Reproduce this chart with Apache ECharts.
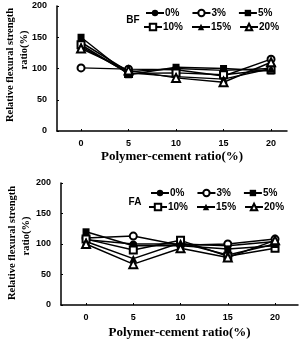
<!DOCTYPE html>
<html>
<head>
<meta charset="utf-8">
<script src="https://cdn.jsdelivr.net/npm/echarts@6/dist/echarts.min.js"></script>
<style>
  html, body { margin: 0; padding: 0; background: #fff; }
  #chart { width: 304px; height: 340px; }
</style>
</head>
<body>
<div id="chart"></div>
<script>
// polymer-cement ratio (%)
const ratios = [0, 5, 10, 15, 20]
const seriesNames = ['0%', '3%', '5%', '10%', '15%', '20%']
const symbols = ['circle', 'emptyCircle', 'rect', 'emptyRect', 'triangle', 'emptyTriangle']

// BF panel
const bf0 = [142, 95, 100, 97, 100]
const bf3 = [101, 99, 98, 88, 115]
const bf5 = [150, 90, 102, 100, 96]
const bf10 = [138, 92, 93, 90, 98]
const bf15 = [135, 93, 87, 83, 100]
const bf20 = [132, 97, 85, 78, 110]

// FA panel
const fa0 = [107, 100, 100, 97, 104]
const fa3 = [110, 113, 98, 100, 108]
const fa5 = [120, 97, 97, 92, 97]
const fa10 = [108, 90, 106, 80, 93]
const fa15 = [104, 76, 102, 82, 100]
const fa20 = [100, 67, 93, 78, 106]

const chart = echarts.init(document.getElementById('chart'), null, { renderer: 'canvas' })

const black = '#000'
const sans = 'Liberation Sans'
const serif = 'Liberation Serif'

function makeSeries(sets, idx) {
    return sets.map((vals, i) => ({
        name: seriesNames[i],
        type: 'line',
        xAxisIndex: idx,
        yAxisIndex: idx,
        symbol: symbols[i],
        symbolSize: i >= 4 ? 8 : 7,
        lineStyle: { color: black, width: 1.5 },
        itemStyle: { color: black, borderWidth: 1.2 },
        data: ratios.map((x, k) => [x, vals[k]]),
        animation: false
    }))
}

function xAxis(idx, min, max, gap) {
    return {
        type: 'value',
        gridIndex: idx,
        min: min,
        max: max,
        splitLine: { show: false },
        axisLine: { onZero: false, lineStyle: { color: black, width: 1.5 } },
        axisTick: { inside: true, length: 2, customValues: ratios, lineStyle: { color: black } },
        axisLabel: { customValues: ratios, margin: 8, color: black, fontFamily: sans, fontWeight: 'bold', fontSize: 9 },
        name: 'Polymer-cement ratio(%)',
        nameLocation: 'middle',
        nameGap: gap,
        nameTextStyle: { color: black, fontFamily: serif, fontWeight: 'bold', fontSize: 13 }
    }
}

function yAxis(idx) {
    return {
        type: 'value',
        gridIndex: idx,
        min: 0,
        max: 200,
        interval: 50,
        splitLine: { show: false },
        axisLine: { show: true, onZero: false, lineStyle: { color: black, width: 1.5 } },
        axisTick: { show: true, inside: true, length: 2, lineStyle: { color: black } },
        axisLabel: { margin: 10, color: black, fontFamily: sans, fontWeight: 'bold', fontSize: 9 }
    }
}

function legends(left, top1, top2) {
    const base = {
        orient: 'horizontal',
        itemWidth: 18,
        itemHeight: 8,
        selectedMode: false,
        padding: 0,
        textStyle: { color: black, fontFamily: sans, fontWeight: 'bold', fontSize: 10, padding: [0, 0, 0, -4] }
    }
    return [
        Object.assign({}, base, { left: left, top: top1, itemGap: 12, data: seriesNames.slice(0, 3) }),
        Object.assign({}, base, { left: left - 2, top: top2, itemGap: 8, data: seriesNames.slice(3) })
    ]
}

function yTitle(x1, y1, x2, y2) {
    const st = { fill: black, font: 'bold 10.5px "Liberation Serif"', align: 'center', verticalAlign: 'middle' }
    return [
        { type: 'text', x: x1, y: y1, rotation: Math.PI / 2, style: Object.assign({ text: 'Relative flexural strength' }, st) },
        { type: 'text', x: x2, y: y2, rotation: Math.PI / 2, style: Object.assign({ text: 'ratio(%)' }, st) }
    ]
}

chart.setOption({
    backgroundColor: '#fff',
    animation: false,
    grid: [
        { left: 57, top: 6, width: 230, height: 125 },
        { left: 61, top: 183, width: 237, height: 125 }
    ],
    xAxis: [xAxis(0, -2.53, 21.68, 19), xAxis(1, -2.65, 22.43, 21)],
    yAxis: [yAxis(0), yAxis(1)],
    legend: legends(145, 8, 22).concat(legends(150, 188, 202)),
    graphic: [
        { type: 'text', x: 133, y: 20, style: { text: 'BF', fill: black, font: 'bold 10px "Liberation Sans"', align: 'center', verticalAlign: 'middle' } },
        { type: 'text', x: 135, y: 202, style: { text: 'FA', fill: black, font: 'bold 10px "Liberation Sans"', align: 'center', verticalAlign: 'middle' } }
    ].concat(yTitle(10, 65, 24, 50), yTitle(12, 243, 26, 236)),
    series: makeSeries([bf0, bf3, bf5, bf10, bf15, bf20], 0)
        .concat(makeSeries([fa0, fa3, fa5, fa10, fa15, fa20], 1))
})
</script>
</body>
</html>
